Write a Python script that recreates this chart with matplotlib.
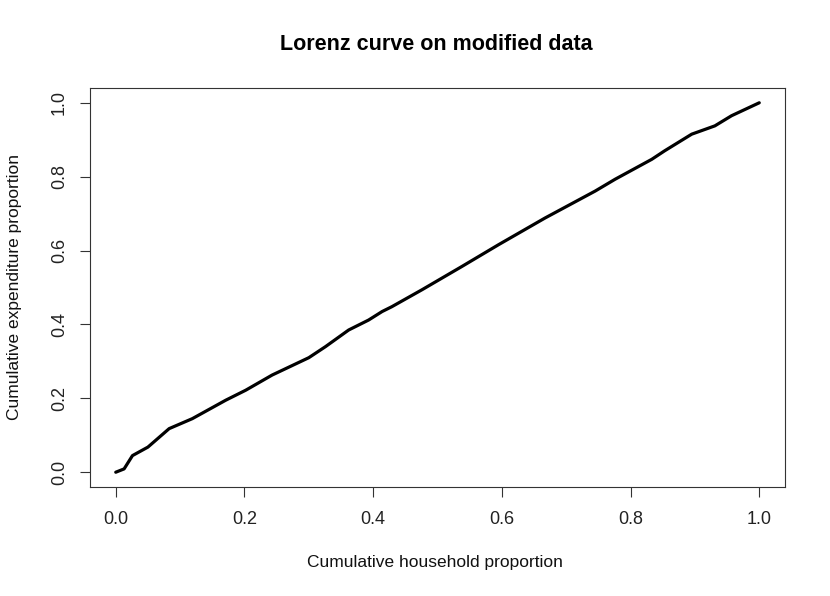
import matplotlib
matplotlib.use("Agg")
import matplotlib.pyplot as plt
import numpy as np

plt.rcParams['font.family'] = ['Liberation Sans', 'DejaVu Sans']

# cumulative household proportion vs cumulative expenditure proportion
hh_prop = [0.0, 0.013, 0.026, 0.05, 0.083, 0.119, 0.171, 0.202, 0.243, 0.300,
           0.326, 0.362, 0.393, 0.414, 0.429, 0.476, 0.538, 0.595, 0.667, 0.745,
           0.776, 0.833, 0.853, 0.895, 0.931, 0.957, 1.0]
exp_prop = [0.0, 0.009, 0.045, 0.068, 0.118, 0.145, 0.195, 0.222, 0.263, 0.310,
            0.340, 0.385, 0.412, 0.435, 0.448, 0.494, 0.557, 0.616, 0.688, 0.761,
            0.793, 0.847, 0.870, 0.915, 0.9375, 0.965, 1.0]
ticks = [0.0, 0.2, 0.4, 0.6, 0.8, 1.0]

W, H = 830, 596
fig = plt.figure(figsize=(W/100, H/100), dpi=100)
ax = fig.add_axes([90/W, 1-487/H, 695/W, 399/H])

ax.plot(hh_prop, exp_prop, color='black', lw=2.3, solid_capstyle='round')

ax.set_xlim(-0.04, 1.04)
ax.set_ylim(-0.04, 1.04)
ax.set_xticks(ticks)
ax.set_yticks(ticks)
ax.set_xticklabels([f"{t:.1f}" for t in ticks])
ax.set_yticklabels([f"{t:.1f}" for t in ticks], rotation=90, va='center')
ax.tick_params(direction='out', length=7, width=0.8, labelsize=13,
               colors='#333333', labelcolor='#222222')
ax.tick_params(axis='x', pad=10)
ax.tick_params(axis='y', pad=9)
for s in ax.spines.values():
    s.set_linewidth(0.8)
    s.set_color('#333333')

# titles placed like R's base graphics margins
fig.text(436/W, 1-45/H, "Lorenz curve on modified data", fontsize=15.5,
         fontweight='bold', ha='center', va='center')
fig.text(435/W, 1-563/H, "Cumulative household proportion", fontsize=12.5,
         ha='center', va='center', color='#111111')
fig.text(15/W, 1-287/H, "Cumulative expenditure proportion", fontsize=12.5,
         ha='center', va='center', rotation=90, color='#111111')

fig.savefig("out.png", dpi=100)
